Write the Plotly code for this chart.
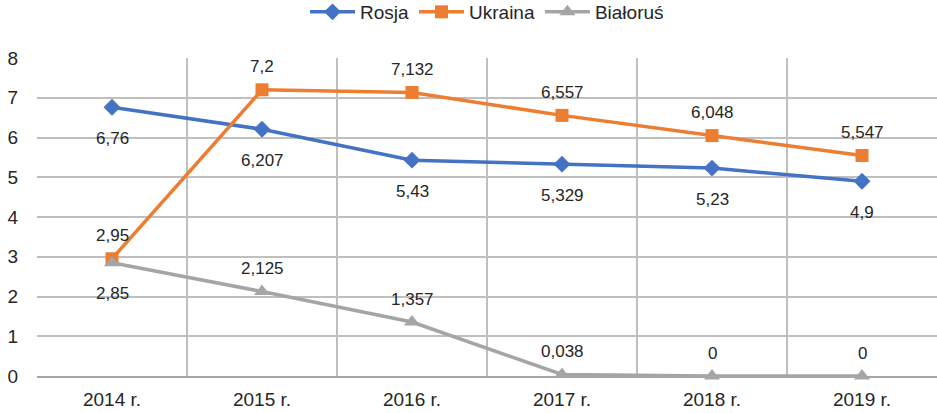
import plotly.graph_objects as go

years = ["2014 r.", "2015 r.", "2016 r.", "2017 r.", "2018 r.", "2019 r."]
rosja = [6.76, 6.207, 5.43, 5.329, 5.23, 4.9]
ukraina = [2.95, 7.2, 7.132, 6.557, 6.048, 5.547]
bialorus = [2.85, 2.125, 1.357, 0.038, 0, 0]

# label placement: +1 above, -1 below
rosja_pos = [-1, -1, -1, -1, -1, -1]
ukraina_pos = [1, 1, 1, 1, 1, 1]
bialorus_pos = [-1, 1, 1, 1, 1, 1]

series = [
    ("Rosja", rosja, rosja_pos, "#4472C4", "diamond", 13),
    ("Ukraina", ukraina, ukraina_pos, "#ED7D31", "square", 13),
    ("Białoruś", bialorus, bialorus_pos, "#A5A5A5", "triangle-up", 14),
]

FONT = "Liberation Sans, Arial, sans-serif"

def fmt(v):
    return f"{v:g}".replace(".", ",")

fig = go.Figure()
annotations = []
for name, vals, pos, color, sym, size in series:
    fig.add_trace(go.Scatter(
        x=years, y=vals, name=name, mode="lines+markers",
        line=dict(color=color, width=3.5),
        marker=dict(symbol=sym, size=size, color=color),
        cliponaxis=False,
    ))
    for x, v, p in zip(years, vals, pos):
        annotations.append(dict(
            x=x, y=v, text=fmt(v), showarrow=False,
            yshift=23 if p > 0 else -31,
            font=dict(size=17, color="#262626", family=FONT),
        ))

fig.update_layout(
    width=937, height=413,
    margin=dict(l=37, r=0, t=58, b=37, autoexpand=False),
    paper_bgcolor="white", plot_bgcolor="white",
    font=dict(family=FONT, color="#262626"),
    showlegend=True,
    legend=dict(orientation="h", x=0.5, xanchor="center", y=0.971, yref="container",
                yanchor="middle", font=dict(size=19), itemwidth=45, traceorder="normal"),
    annotations=annotations,
)
fig.update_xaxes(
    type="category", tickson="boundaries", showgrid=True, gridcolor="#BFBFBF", gridwidth=1.5,
    ticks="", tickfont=dict(size=19), showline=True, linecolor="#A6A6A6", linewidth=2,
    range=[-0.5, 5.5], ticklabelstandoff=5, automargin=False,
)
fig.update_yaxes(
    range=[0, 8], dtick=1, showgrid=True, gridcolor="#BFBFBF", gridwidth=1.5,
    zeroline=False, tickfont=dict(size=19), ticks="", ticklabelstandoff=18, automargin=False,
)

fig.write_html(
    "out.html",
    config={"displayModeBar": False},
    post_script="document.body.style.margin='0';document.body.style.padding='0';",
)
